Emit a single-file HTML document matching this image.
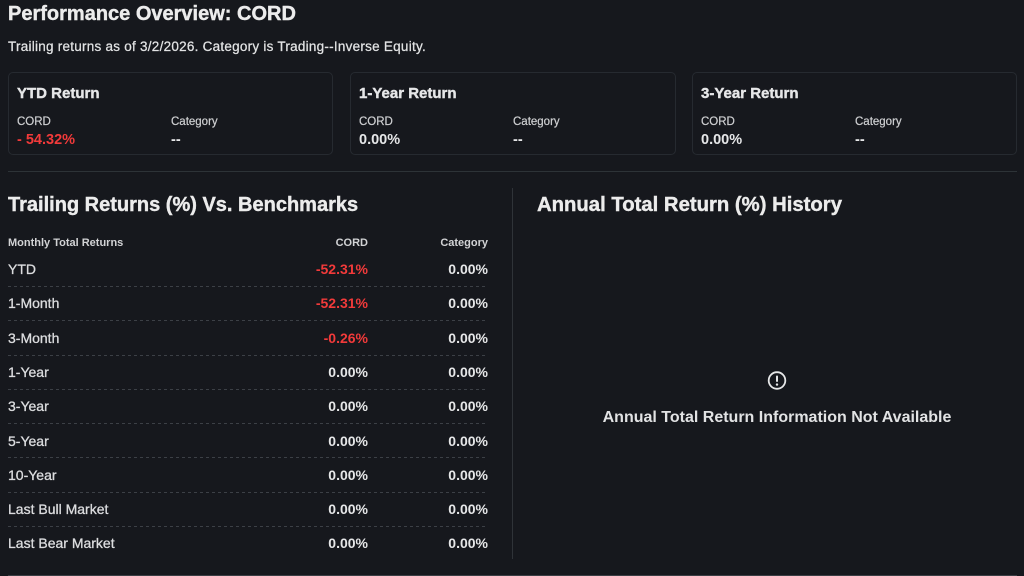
<!DOCTYPE html>
<html><head><meta charset="utf-8"><style>
html,body{margin:0;padding:0;}
body{width:1024px;height:576px;background:#16181d;position:relative;overflow:hidden;font-family:"Liberation Sans",Arial,sans-serif;color:#e6e7e8;}
.a{position:absolute;white-space:nowrap;line-height:1;}
.b{font-weight:bold;}
.h{-webkit-text-stroke:0.4px currentColor;}
.s{-webkit-text-stroke:0.25px currentColor;}
.card{position:absolute;top:72px;height:81px;border:1px solid #262a30;border-radius:5px;box-sizing:content-box;}
.lbl{font-size:11.5px;color:#cfd0d2;-webkit-text-stroke:0.2px currentColor;}
.val{font-size:14.5px;font-weight:bold;}
.red{color:#f23a3a;}
.row{font-size:14px;color:#dcdddf;-webkit-text-stroke:0.3px currentColor;}
.num{font-size:14px;font-weight:bold;text-align:right;}
.dash{position:absolute;left:8px;width:480px;height:1px;background:repeating-linear-gradient(to right,#3c4046 0 3px,transparent 3px 6px);}
</style></head><body>
<div class="a b h" style="left:8px;top:4px;font-size:20px;color:#ececec;">Performance Overview: CORD</div>
<div class="a s" style="left:8px;top:39.5px;font-size:13.5px;letter-spacing:0.25px;color:#e2e3e4;">Trailing returns as of 3/2/2026. Category is Trading--Inverse Equity.</div>

<div class="card" style="left:8px;width:323px;"></div>
<div class="card" style="left:350px;width:324px;"></div>
<div class="card" style="left:692px;width:323px;"></div>

<div class="a b h" style="left:17px;top:86px;font-size:15px;">YTD Return</div>
<div class="a lbl" style="left:17px;top:116.5px;">CORD</div>
<div class="a lbl" style="left:171px;top:116.5px;">Category</div>
<div class="a val red" style="left:17px;top:133px;">- 54.32%</div>
<div class="a val" style="left:171px;top:133px;">--</div>

<div class="a b h" style="left:359px;top:86px;font-size:15px;">1-Year Return</div>
<div class="a lbl" style="left:359px;top:116.5px;">CORD</div>
<div class="a lbl" style="left:513px;top:116.5px;">Category</div>
<div class="a val" style="left:359px;top:133px;">0.00%</div>
<div class="a val" style="left:513px;top:133px;">--</div>

<div class="a b h" style="left:701px;top:86px;font-size:15px;">3-Year Return</div>
<div class="a lbl" style="left:701px;top:116.5px;">CORD</div>
<div class="a lbl" style="left:855px;top:116.5px;">Category</div>
<div class="a val" style="left:701px;top:133px;">0.00%</div>
<div class="a val" style="left:855px;top:133px;">--</div>

<div style="position:absolute;left:8px;top:171px;width:1009px;height:1px;background:#2d3337;"></div>

<div class="a b h" style="left:8px;top:195px;font-size:20px;color:#ececec;">Trailing Returns (%) Vs. Benchmarks</div>
<div class="a b h" style="left:537px;top:195px;font-size:20.3px;color:#ececec;">Annual Total Return (%) History</div>

<div style="position:absolute;left:512px;top:188px;width:1px;height:371px;background:#2f3338;"></div>

<div class="a b" style="left:8px;top:237.5px;font-size:11px;color:#d2d3d5;">Monthly Total Returns</div>
<div class="a b" style="left:268px;width:100px;text-align:right;top:237.5px;font-size:11px;color:#d2d3d5;">CORD</div>
<div class="a b" style="left:388px;width:100px;text-align:right;top:237.5px;font-size:11px;color:#d2d3d5;">Category</div>

<div class="a row" style="left:8px;top:262px;">YTD</div>
<div class="a num red" style="left:268px;width:100px;top:262px;">-52.31%</div>
<div class="a num" style="left:388px;width:100px;top:262px;">0.00%</div>
<div class="dash" style="top:286px;"></div>

<div class="a row" style="left:8px;top:296px;">1-Month</div>
<div class="a num red" style="left:268px;width:100px;top:296px;">-52.31%</div>
<div class="a num" style="left:388px;width:100px;top:296px;">0.00%</div>
<div class="dash" style="top:320px;"></div>

<div class="a row" style="left:8px;top:330.5px;">3-Month</div>
<div class="a num red" style="left:268px;width:100px;top:330.5px;">-0.26%</div>
<div class="a num" style="left:388px;width:100px;top:330.5px;">0.00%</div>
<div class="dash" style="top:355px;"></div>

<div class="a row" style="left:8px;top:365px;">1-Year</div>
<div class="a num" style="left:268px;width:100px;top:365px;">0.00%</div>
<div class="a num" style="left:388px;width:100px;top:365px;">0.00%</div>
<div class="dash" style="top:389px;"></div>

<div class="a row" style="left:8px;top:399px;">3-Year</div>
<div class="a num" style="left:268px;width:100px;top:399px;">0.00%</div>
<div class="a num" style="left:388px;width:100px;top:399px;">0.00%</div>
<div class="dash" style="top:423px;"></div>

<div class="a row" style="left:8px;top:433.5px;">5-Year</div>
<div class="a num" style="left:268px;width:100px;top:433.5px;">0.00%</div>
<div class="a num" style="left:388px;width:100px;top:433.5px;">0.00%</div>
<div class="dash" style="top:457px;"></div>

<div class="a row" style="left:8px;top:467.5px;">10-Year</div>
<div class="a num" style="left:268px;width:100px;top:467.5px;">0.00%</div>
<div class="a num" style="left:388px;width:100px;top:467.5px;">0.00%</div>
<div class="dash" style="top:491.5px;"></div>

<div class="a row" style="left:8px;top:502px;">Last Bull Market</div>
<div class="a num" style="left:268px;width:100px;top:502px;">0.00%</div>
<div class="a num" style="left:388px;width:100px;top:502px;">0.00%</div>
<div class="dash" style="top:525.5px;"></div>

<div class="a row" style="left:8px;top:536px;">Last Bear Market</div>
<div class="a num" style="left:268px;width:100px;top:536px;">0.00%</div>
<div class="a num" style="left:388px;width:100px;top:536px;">0.00%</div>

<svg style="position:absolute;left:766px;top:370px;" width="22" height="22" viewBox="0 0 22 22">
<circle cx="11" cy="10.5" r="8.3" fill="none" stroke="#e6e7e8" stroke-width="1.8"/>
<rect x="10" y="5.5" width="2" height="6.5" rx="1" fill="#e6e7e8"/>
<circle cx="11" cy="14.6" r="1.2" fill="#e6e7e8"/>
</svg>
<div class="a b" style="left:527px;width:500px;text-align:center;top:409.5px;font-size:16px;color:#e2e3e4;">Annual Total Return Information Not Available</div>

<div style="position:absolute;left:8px;top:575px;width:1009px;height:1px;background:#3a3e44;"></div>
</body></html>
